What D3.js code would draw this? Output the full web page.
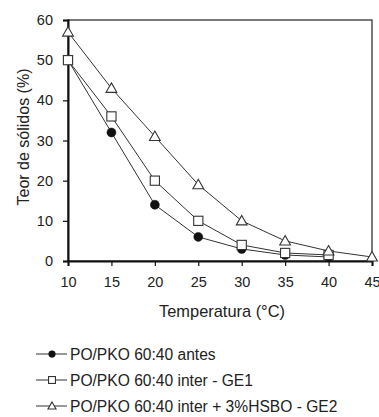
<!DOCTYPE html>
<html>
<head>
<meta charset="utf-8">
<script src="https://cdn.jsdelivr.net/npm/d3@7"></script>
<style>
  body { margin: 0; background: #fff; }
  text { font-family: "Liberation Sans", Arial, sans-serif; fill: #222; }
</style>
</head>
<body>
<div id="chart"></div>
<script>
// temperatures (°C)
const temps = [10, 15, 20, 25, 30, 35, 40, 45];
const xTicks = [10, 15, 20, 25, 30, 35, 40, 45];
const yTicks = [0, 10, 20, 30, 40, 50, 60];

// teor de sólidos (%)
const antes = [50, 32, 14, 6, 3, 1.5, 1];
const ge1 = [50, 36, 20, 10, 4, 2, 1.5];
const ge2 = [57, 43, 31, 19, 10, 5, 2.5, 1];

const seriesNames = [
  'PO/PKO 60:40 antes',
  'PO/PKO 60:40 inter - GE1',
  'PO/PKO 60:40 inter + 3%HSBO - GE2'
];

const W = 379, H = 417;
const margin = { left: 68, right: 7, top: 20, bottom: 156 };

const svg = d3.select('#chart').append('svg')
  .attr('width', W).attr('height', H);

const x = d3.scaleLinear().domain([10, 45]).range([margin.left, W - margin.right]);
const y = d3.scaleLinear().domain([0, 60]).range([H - margin.bottom, margin.top]);

// frame
svg.append('rect')
  .attr('x', x(10)).attr('y', y(60))
  .attr('width', x(45) - x(10)).attr('height', y(0) - y(60))
  .attr('fill', 'none').attr('stroke', '#222').attr('stroke-width', 1.2);

const xAxis = svg.append('g')
  .attr('transform', 'translate(0,' + y(0) + ')')
  .call(d3.axisBottom(x).tickValues(xTicks).tickSize(5).tickPadding(11).tickFormat(d3.format('d')));
const yAxis = svg.append('g')
  .attr('transform', 'translate(' + x(10) + ',0)')
  .call(d3.axisLeft(y).tickValues(yTicks).tickSize(5).tickPadding(10));

[xAxis, yAxis].forEach(g => {
  g.select('.domain').attr('stroke', '#111').attr('stroke-width', 2);
  g.selectAll('.tick line').attr('stroke', '#111').attr('stroke-width', 1.2);
  g.selectAll('.tick text').style('font-size', '14.5px').attr('fill', '#222');
});

svg.append('text')
  .attr('x', (x(10) + x(45)) / 2 + 2).attr('y', 317)
  .attr('text-anchor', 'middle').style('font-size', '16.4px')
  .text('Temperatura (°C)');

svg.append('text')
  .attr('transform', 'translate(28.5,137) rotate(-90)')
  .attr('text-anchor', 'middle').style('font-size', '16px')
  .text('Teor de sólidos (%)');

const line = d3.line().x((d, i) => x(temps[i])).y(d => y(d));

const series = [
  { vals: antes, sym: 'circle' },
  { vals: ge1, sym: 'square' },
  { vals: ge2, sym: 'triangle' }
];

function marker(g, sym, cx, cy, scale) {
  const s = scale || 1;
  if (sym === 'circle') {
    g.append('circle').attr('cx', cx).attr('cy', cy).attr('r', 4.5 * s)
      .attr('fill', '#111').attr('stroke', '#111').attr('stroke-width', 0.5);
  } else if (sym === 'square') {
    const h = 4.6 * s;
    g.append('rect').attr('x', cx - h).attr('y', cy - h).attr('width', 2 * h).attr('height', 2 * h)
      .attr('fill', '#fff').attr('stroke', '#333').attr('stroke-width', 1.1);
  } else {
    const h = 5.4 * s;
    g.append('path')
      .attr('d', 'M' + cx + ',' + (cy - h) + 'L' + (cx + h) + ',' + (cy + h * 0.75) + 'L' + (cx - h) + ',' + (cy + h * 0.75) + 'Z')
      .attr('fill', '#fff').attr('stroke', '#333').attr('stroke-width', 1.1);
  }
}

series.forEach(s => {
  svg.append('path').datum(s.vals).attr('d', line)
    .attr('fill', 'none').attr('stroke', '#333').attr('stroke-width', 1);
});
series.forEach(s => {
  const g = svg.append('g');
  s.vals.forEach((v, i) => marker(g, s.sym, x(temps[i]), y(v)));
});

// legend
const legY = [354, 380, 406];
series.forEach((s, i) => {
  const g = svg.append('g');
  g.append('line').attr('x1', 36).attr('x2', 67).attr('y1', legY[i]).attr('y2', legY[i])
    .attr('stroke', '#333').attr('stroke-width', 1);
  marker(g, s.sym, 52, legY[i], 0.75);
  g.append('text').attr('x', 70).attr('y', legY[i] + 5.6)
    .style('font-size', '15.6px').text(seriesNames[i]);
});
</script>
</body>
</html>
